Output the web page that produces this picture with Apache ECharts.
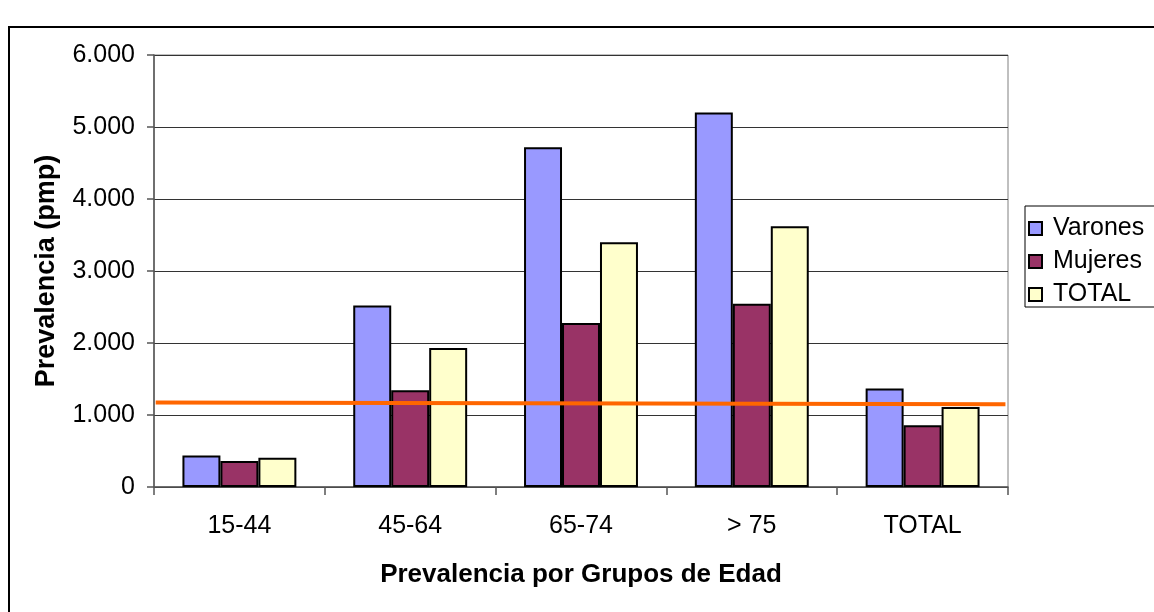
<!DOCTYPE html>
<html>
<head>
<meta charset="utf-8">
<style>
  html, body { margin: 0; padding: 0; background: #fff; }
  #chart { width: 1154px; height: 612px; }
</style>
<script src="https://cdn.jsdelivr.net/npm/echarts@6/dist/echarts.min.js"></script>
</head>
<body>
<div id="chart"></div>
<script>
// Prevalencia (pmp) por grupos de edad y sexo
const categories = ['15-44', '45-64', '65-74', '> 75', 'TOTAL'];
const varones = [436, 2520, 4720, 5200, 1367];
const mujeres = [361, 1343, 2278, 2545, 857];
const total = [406, 1930, 3400, 3620, 1111];
// reference level drawn across the whole plot (start, end)
const referencia = [1172, 1149];
const yTicks = [0, 1000, 2000, 3000, 4000, 5000, 6000];

const FONT = 'Liberation Sans, Arial, sans-serif';
const FS = 25;

function fmtMiles(v) {
  return String(v).replace(/\B(?=(\d{3})+(?!\d))/g, '.');
}

const barStyle = (color) => ({
  color: color,
  borderColor: '#000',
  borderWidth: 2
});

const chart = echarts.init(document.getElementById('chart'), null, { renderer: 'canvas' });

chart.setOption({
  animation: false,
  backgroundColor: '#fff',
  textStyle: { fontFamily: FONT },
  graphic: [
    {
      type: 'rect',
      shape: { x: 9, y: 27, width: 1200, height: 650 },
      style: { fill: 'none', stroke: '#000', lineWidth: 2 },
      z: -10
    },
    {
      type: 'rect',
      shape: { x: 154, y: 55, width: 854, height: 432 },
      style: { fill: 'none', stroke: '#808080', lineWidth: 1 },
      z: -5
    }
  ],
  grid: { left: 154, right: 146, top: 55, bottom: 125, containLabel: false },
  legend: {
    orient: 'vertical',
    left: 1025,
    top: 206,
    itemWidth: 13,
    itemHeight: 13,
    itemGap: 8,
    padding: [10, 20, 0, 3],
    backgroundColor: '#fff',
    borderColor: '#000',
    borderWidth: 1,
    textStyle: { fontFamily: FONT, fontSize: FS, color: '#000', padding: [0, 0, 0, 6] },
    data: ['Varones', 'Mujeres', 'TOTAL'].map((n) => ({ name: n, icon: 'rect' }))
  },
  xAxis: [
    {
      type: 'category',
      data: categories,
      name: 'Prevalencia por Grupos de Edad',
      nameLocation: 'middle',
      nameGap: 75,
      nameTextStyle: { fontFamily: FONT, fontSize: 26, fontWeight: 'bold', color: '#000' },
      axisLine: { lineStyle: { color: '#555', width: 1.5 } },
      axisTick: { show: true, length: 8, lineStyle: { color: '#555', width: 1.5 } },
      axisLabel: { fontFamily: FONT, fontSize: FS, color: '#000', margin: 27 }
    },
    {
      type: 'value',
      min: 0,
      max: 1,
      show: false
    }
  ],
  yAxis: {
    type: 'value',
    min: 0,
    max: 6000,
    interval: 1000,
    name: 'Prevalencia (pmp)',
    nameLocation: 'middle',
    nameGap: 94,
    nameTextStyle: { fontFamily: FONT, fontSize: 27, fontWeight: 'bold', color: '#000' },
    axisLine: { show: true, lineStyle: { color: '#555', width: 1.5 } },
    axisTick: { show: true, length: 7, lineStyle: { color: '#555', width: 1.5 } },
    axisLabel: {
      fontFamily: FONT,
      fontSize: FS,
      color: '#000',
      margin: 19,
      formatter: (v) => (yTicks.includes(v) ? fmtMiles(v) : '')
    },
    splitLine: { show: true, lineStyle: { color: '#333', width: 1 } }
  },
  series: [
    {
      name: 'Varones', type: 'bar', data: varones,
      barCategoryGap: '33.3%', barGap: '0%',
      itemStyle: barStyle('#9999FF')
    },
    {
      name: 'Mujeres', type: 'bar', data: mujeres,
      barGap: '0%',
      itemStyle: barStyle('#993366')
    },
    {
      name: 'TOTAL', type: 'bar', data: total,
      barGap: '0%',
      itemStyle: barStyle('#FFFFCC')
    },
    {
      name: 'Referencia', type: 'line',
      xAxisIndex: 1,
      data: [[0.002, referencia[0]], [0.997, referencia[1]]],
      symbol: 'none',
      lineStyle: { color: '#FF6600', width: 4 },
      z: 10,
      silent: true
    }
  ]
});
</script>
</body>
</html>
